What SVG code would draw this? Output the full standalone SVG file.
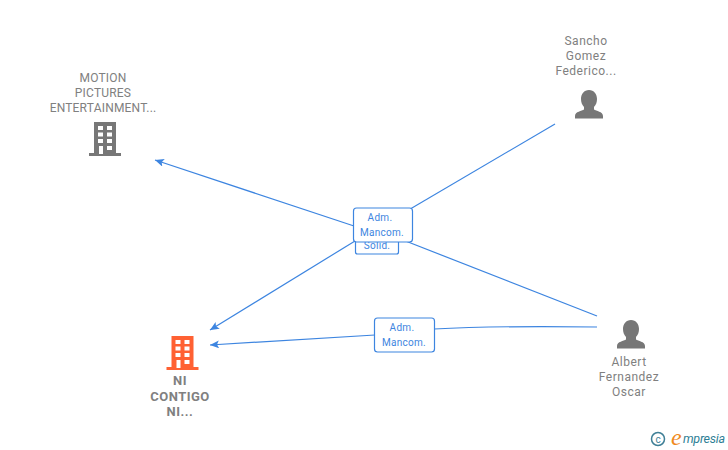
<svg xmlns="http://www.w3.org/2000/svg" width="728" height="450" viewBox="0 0 728 450">
<style>
text{font-family:Roboto,"Liberation Sans",Arial,sans-serif}
.n{font-size:12px;fill:#808080;text-anchor:middle;letter-spacing:.5px}
.u{letter-spacing:.2px}
.b{font-size:13px;font-weight:700;fill:#808080;letter-spacing:.5px}
.e{fill:none;stroke:#3d85e0;stroke-width:1.200}
.lb{fill:#fff;stroke:#3d85e0;stroke-width:1.200}
.l{font-size:10px;fill:#3d85e0;text-anchor:middle;letter-spacing:.3px}
.g{fill:#777}
.o{fill:#ff6133}
.w{fill:#fff}
</style>
<defs>
<marker id="a" markerWidth="10" markerHeight="10" refX="9" refY="4" orient="auto" markerUnits="userSpaceOnUse"><path d="M0 0L9 4L0 8L2 4Z" fill="#3d85e0"/></marker>
<g id="bld">
<path d="M-11-34H11V-3H16V0H-16V-3H-11Z"/>
<path class="w" d="M-7-30h5v4h-5zM2-30h5v4h-5zM-7-23.500h5v4h-5zM2-23.500h5v4h-5zM-7-17h5v4h-5zM2-17h5v4h-5zM2-10h5v4h-5zM-6-10h4v8h-4z"/>
</g>
<path id="per" d="M0-28c5 0 8 4 8 9c0 3-1 6-3 8v2.500c2 1.500 9 2 9 6.500v2.500h-28v-2.500c0-4.500 7-5 9-6.500v-2.500c-2-2-3-5-3-8c0-5 3-9 8-9z"/>
</defs>
<g id="connectors">
<path class="e" d="M555 124L400 215"/>
<path class="e" d="M355 241L210 330" marker-end="url(#a)"/>
<path class="e" d="M354 226L155 160" marker-end="url(#a)"/>
<path class="e" d="M597 316L403 240"/>
<path class="e" d="M597 327C520 326 470 327 434 329"/>
<path class="e" d="M375 335L210 345" marker-end="url(#a)"/>
</g>
<g id="edge-labels">
<rect class="lb" x="355.500" y="236" width="43" height="18" rx="2"/>
<text class="l" x="377" y="249">Solid.</text>
<rect class="lb" x="353.500" y="208" width="59" height="34" rx="3"/>
<text class="l" x="380" y="221">Adm.</text>
<text class="l" x="382" y="236">Mancom.</text>
<rect class="lb" x="374.500" y="318" width="60" height="34" rx="3"/>
<text class="l" x="402" y="331">Adm.</text>
<text class="l" x="404" y="346">Mancom.</text>
</g>
<g id="motion">
<text class="n u" x="103" y="82">MOTION</text>
<text class="n u" x="103" y="97">PICTURES</text>
<text class="n u" x="103" y="112">ENTERTAINMENT...</text>
<use href="#bld" class="g" x="105" y="156"/>
</g>
<g id="nicontigo">
<text class="n b" x="180" y="385">NI</text>
<text class="n b" x="180" y="401">CONTIGO</text>
<text class="n b" x="180" y="416">NI...</text>
<use href="#bld" class="o" x="182.500" y="370"/>
</g>
<g id="sancho">
<text class="n" x="586" y="45">Sancho</text>
<text class="n" x="586" y="60">Gomez</text>
<text class="n" x="586" y="75">Federico...</text>
<use href="#per" class="g" x="589" y="118"/>
</g>
<g id="albert">
<text class="n" x="629" y="366">Albert</text>
<text class="n" x="629" y="381">Fernandez</text>
<text class="n" x="629" y="396">Oscar</text>
<use href="#per" class="g" x="631" y="348"/>
</g>
<g id="logo">
<circle cx="658" cy="439" r="6.500" fill="none" stroke="#3f7f96" stroke-width="1.500"/>
<text x="658" y="442.500" font-size="10" fill="#3f7f96" text-anchor="middle">c</text>
<text x="671" y="445" font-size="24" font-style="italic" fill="#f08a1d" style="font-family:'Liberation Serif',serif">e</text>
<text x="683" y="443" font-size="12.500" font-style="italic" fill="#2f7f96" textLength="42">mpresia</text>
</g>
</svg>
